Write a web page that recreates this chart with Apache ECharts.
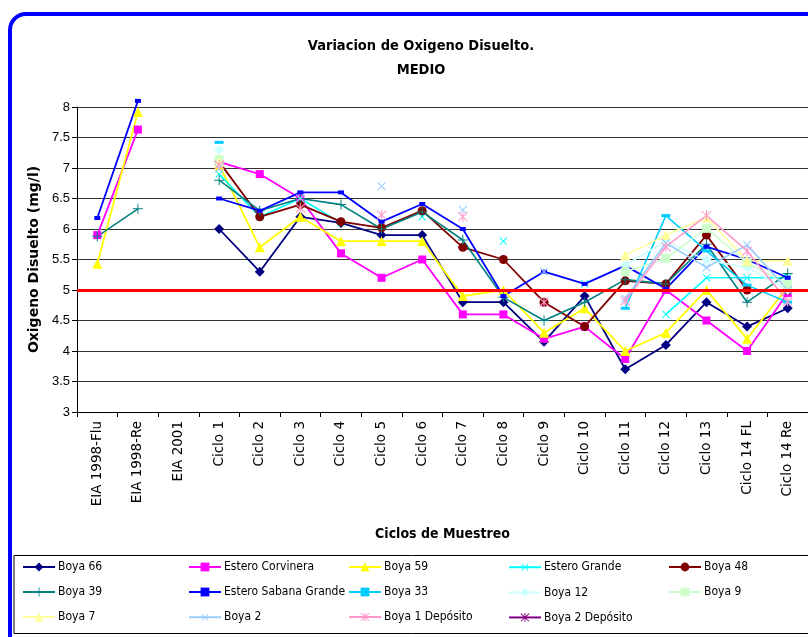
<!DOCTYPE html>
<html>
<head>
<meta charset="utf-8">
<title>Variacion de Oxigeno Disuelto - MEDIO</title>
<script src="https://cdn.jsdelivr.net/npm/echarts@6/dist/echarts.min.js"></script>
<style>
  html, body { margin: 0; padding: 0; background: #fff; }
  #chart { width: 808px; height: 637px; }
</style>
</head>
<body>
<div id="chart"></div>
<script>
// categorias (ciclos de muestreo)
var categorias = ['EIA 1998-Flu', 'EIA 1998-Re', 'EIA 2001', 'Ciclo 1', 'Ciclo 2', 'Ciclo 3', 'Ciclo 4',
  'Ciclo 5', 'Ciclo 6', 'Ciclo 7', 'Ciclo 8', 'Ciclo 9', 'Ciclo 10', 'Ciclo 11', 'Ciclo 12',
  'Ciclo 13', 'Ciclo 14 FL', 'Ciclo 14 Re'];

// oxigeno disuelto (mg/l) por estacion
var boya66 = [null, null, null, 6.0, 5.3, 6.2, 6.1, 5.9, 5.9, 4.8, 4.8, 4.15, 4.9, 3.7, 4.1, 4.8, 4.4, 4.7];
var esteroCorvinera = [5.9, 7.63, null, 7.1, 6.9, 6.5, 5.6, 5.2, 5.5, 4.6, 4.6, 4.2, 4.4, 3.87, 5.0, 4.5, 4.0, 4.95];
var boya59 = [5.43, 7.92, null, 7.05, 5.7, 6.2, 5.8, 5.8, 5.8, 4.9, 5.0, 4.3, 4.7, 4.0, 4.3, 5.0, 4.2, 5.05];
var esteroGrande = [null, null, null, 6.9, 6.2, 6.5, 6.1, null, 6.2, null, 5.8, null, 5.1, null, 4.6, 5.2, 5.2, 5.2];
var boya48 = [null, null, null, 7.1, 6.2, 6.4, 6.12, 6.02, 6.3, 5.7, 5.5, 4.8, 4.4, 5.15, 5.1, 5.9, 5.0, 5.0];
var boya39 = [5.88, 6.33, null, 6.8, 6.3, 6.5, 6.4, 6.0, 6.28, 5.82, 4.88, 4.5, 4.8, 5.17, 5.1, 5.75, 4.8, 5.27];
var esteroSabana = [6.18, 8.1, null, 6.5, 6.3, 6.6, 6.6, 6.12, 6.41, 6.0, 4.9, 5.3, 5.1, 5.4, 5.02, 5.71, 5.5, 5.2];
var boya33 = [null, null, null, 7.42, null, null, null, null, null, null, null, null, null, 4.7, 6.22, 5.64, 5.08, 4.8];
var boya12 = [null, null, null, 7.3, null, null, null, null, null, null, null, null, null, 5.41, 5.8, 5.49, 5.37, 5.0];
var boya9 = [null, null, null, 7.14, null, null, null, null, null, null, null, null, null, 5.3, 5.52, 6.01, 5.45, 5.09];
var boya7 = [null, null, null, 7.1, null, null, null, null, null, null, null, null, null, 5.57, 5.9, 6.19, 5.48, 5.48];
var boya2 = [null, null, null, 6.99, null, 6.5, null, 6.7, null, 6.31, null, 5.3, null, 4.86, 5.77, 5.37, 5.74, 5.0];
var boya1Deposito = [null, null, null, 7.05, null, 6.34, null, 6.23, null, 6.2, null, 4.8, null, 4.82, 5.71, 6.22, 5.64, 4.81];
var boya2Deposito = [null, null, null, null, null, null, null, null, null, null, null, null, null, null, null, null, null, null];

// limite de referencia
var limite = 5;

var FUENTE = 'Liberation Sans Narrow, DejaVu Sans Condensed, Liberation Sans, sans-serif';

// simbolos tipo excel
var simPlus = 'path://M4.5,0h1v4.5h4.5v1h-4.5v4.5h-1v-4.5h-4.5v-1h4.5z';
var simAster = 'path://M4.5,0h1v10h-1z M1,0.3L9.7,9L9,9.7L0.3,1z M9,0.3L9.7,1L1,9.7L0.3,9z';

function serie(nombre, datos, color, simbolo, tam, ancho, extra) {
  var s = {
    name: nombre,
    type: 'line',
    data: datos,
    symbol: simbolo,
    symbolSize: tam,
    showSymbol: true,
    showAllSymbol: true,
    connectNulls: false,
    animation: false,
    itemStyle: { color: color, borderWidth: 0 },
    lineStyle: { color: color, width: ancho }
  };
  if (extra) {
    for (var k in extra) s[k] = extra[k];
  }
  return s;
}

var chart = echarts.init(document.getElementById('chart'));

var series = [
  serie('Boya 66', boya66, '#000080', 'diamond', 10, 1.8, {
    markLine: {
      silent: true,
      symbol: 'none',
      label: { show: false },
      lineStyle: { color: '#ff0000', width: 3, type: 'solid' },
      data: [{ yAxis: limite }]
    }
  }),
  serie('Estero Corvinera', esteroCorvinera, '#ff00ff', 'rect', 8, 1.8),
  serie('Boya 59', boya59, '#ffff00', 'triangle', 10, 1.8),
  serie('Estero Grande', esteroGrande, '#00ffff', simPlus, 10, 1.6, { symbolRotate: 45 }),
  serie('Boya 48', boya48, '#800000', 'circle', 9, 1.8),
  serie('Boya 39', boya39, '#008080', simPlus, 10, 1.6),
  serie('Estero Sabana Grande', esteroSabana, '#0000ff', 'rect', [6, 4], 1.8, { clip: false }),
  serie('Boya 33', boya33, '#00ccff', 'rect', [9, 3], 1.6),
  serie('Boya 12', boya12, '#ccffff', 'diamond', 10, 1.6),
  serie('Boya 9', boya9, '#ccffcc', 'rect', 9, 1.6),
  serie('Boya 7', boya7, '#ffff99', 'triangle', 10, 1.6),
  serie('Boya 2', boya2, '#99ccff', simPlus, 11, 1.6, { symbolRotate: 45 }),
  serie('Boya 1 Depósito', boya1Deposito, '#ff99cc', simAster, 10, 1.6),
  serie('Boya 2 Depósito', boya2Deposito, '#800080', simAster, 10, 1.6)
];

// leyenda en 5 columnas
var columnas = [
  ['Boya 66', 'Boya 39', 'Boya 7'],
  ['Estero Corvinera', 'Estero Sabana Grande', 'Boya 2'],
  ['Boya 59', 'Boya 33', 'Boya 1 Depósito'],
  ['Estero Grande', 'Boya 12', 'Boya 2 Depósito'],
  ['Boya 48', 'Boya 9']
];
var colX = [17, 183, 343, 503, 663];
var leyendas = columnas.map(function (col, i) {
  return {
    orient: 'vertical',
    left: colX[i],
    top: 556,
    itemWidth: 32,
    itemHeight: 11,
    itemGap: 13,
    selectedMode: false,
    data: col,
    textStyle: { fontFamily: FUENTE, fontSize: 12, color: '#000', padding: [0, 0, 0, -2] }
  };
});

var option = {
  backgroundColor: '#ffffff',
  animation: false,
  title: {
    text: 'Variacion de Oxigeno Disuelto.\nMEDIO',
    left: 416,
    top: 29,
    textAlign: 'center',
    textStyle: {
      fontFamily: FUENTE,
      fontWeight: 'bold',
      fontSize: 14.5,
      lineHeight: 24,
      color: '#000'
    }
  },
  legend: leyendas,
  grid: { left: 77, top: 107, width: 733, height: 305, containLabel: false },
  xAxis: {
    type: 'category',
    data: categorias,
    boundaryGap: true,
    name: 'Ciclos de Muestreo',
    nameLocation: 'middle',
    nameGap: 115,
    nameTextStyle: { fontFamily: FUENTE, fontWeight: 'bold', fontSize: 14, color: '#000' },
    axisLine: { show: true, lineStyle: { color: '#000', width: 1 } },
    axisTick: { show: true, alignWithLabel: false, length: 5, lineStyle: { color: '#000' } },
    axisLabel: {
      interval: 0,
      rotate: 90,
      margin: 9,
      fontFamily: 'DejaVu Sans, sans-serif',
      fontSize: 13.5,
      color: '#000'
    },
    splitLine: { show: false }
  },
  yAxis: {
    type: 'value',
    min: 3,
    max: 8,
    interval: 0.5,
    name: 'Oxigeno Disuelto (mg/l)',
    nameLocation: 'middle',
    nameGap: 33,
    nameRotate: 90,
    nameTextStyle: { fontFamily: 'DejaVu Sans, sans-serif', fontWeight: 'bold', fontSize: 14, color: '#000' },
    axisLine: { show: true, lineStyle: { color: '#000', width: 1 } },
    axisTick: { show: true, length: 5, lineStyle: { color: '#000' } },
    axisLabel: { fontFamily: 'Liberation Sans, Arial, sans-serif', fontSize: 13, color: '#000', margin: 7 },
    splitLine: { show: true, lineStyle: { color: '#333', width: 1.2 } }
  },
  graphic: [
    {
      type: 'rect',
      silent: true,
      z: -1,
      shape: { x: 14, y: 555.5, width: 820, height: 78 },
      style: { fill: 'none', stroke: '#000', lineWidth: 1 }
    },
    {
      type: 'rect',
      silent: true,
      z: -1,
      shape: { x: 10, y: 14, width: 840, height: 680, r: 16 },
      style: { fill: 'none', stroke: '#0000ff', lineWidth: 4 }
    }
  ],
  series: series
};

chart.setOption(option);
</script>
</body>
</html>
